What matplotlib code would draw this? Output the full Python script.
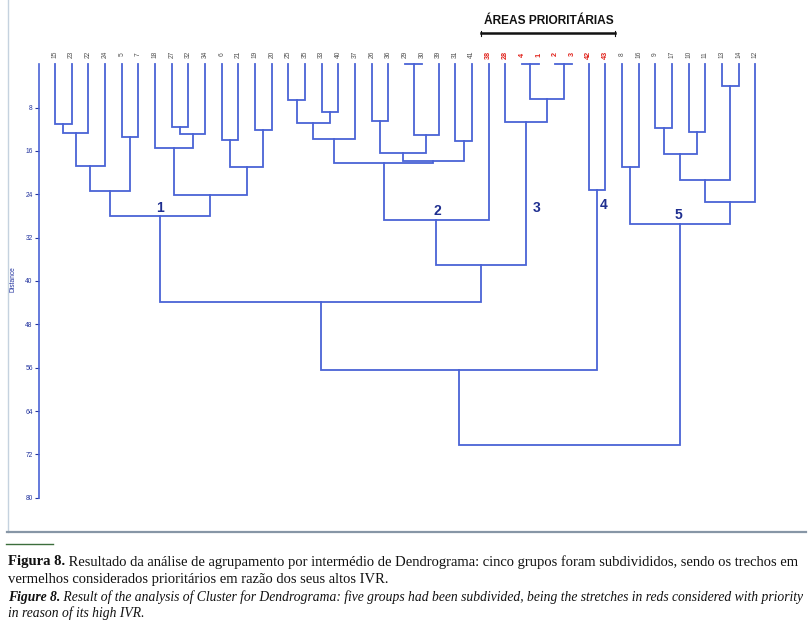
import matplotlib
matplotlib.use("Agg")
import matplotlib.pyplot as plt
from matplotlib.lines import Line2D

# ---------------- data ----------------
leaf_labels = ["15", "23", "22", "24", "5", "7", "18", "27", "32", "34", "6", "21",
               "19", "20", "25", "35", "33", "40", "37", "26", "36", "29", "30", "39",
               "31", "41", "38", "28", "4", "1", "2", "3", "42", "43", "8", "16", "9",
               "17", "10", "11", "13", "14", "12"]
priority_leaves = ["38", "28", "4", "1", "2", "3", "42", "43"]

# merges: (left, right, distance); "#k" refers to the k-th merge
merges = [
    ("15", "23", 11.05),   # 0
    ("#0", "22", 12.65),   # 1
    ("#1", "24", 18.8),    # 2
    ("5", "7", 13.45),     # 3
    ("#2", "#3", 23.4),    # 4
    ("27", "32", 11.5),    # 5
    ("#5", "34", 12.95),   # 6
    ("18", "#6", 15.5),    # 7
    ("6", "21", 14.05),    # 8
    ("19", "20", 12.15),   # 9
    ("#8", "#9", 18.95),   # 10
    ("#7", "#10", 24.2),   # 11
    ("#4", "#11", 28.1),   # 12  group 1
    ("25", "35", 6.6),     # 13
    ("33", "40", 8.85),    # 14
    ("#13", "#14", 10.9),  # 15
    ("#15", "37", 13.8),   # 16
    ("26", "36", 10.5),    # 17
    ("29", "30", 0.0),     # 18
    ("#18", "39", 13.1),   # 19
    ("#17", "#19", 16.3),  # 20
    ("31", "41", 14.2),    # 21
    ("#20", "#21", 17.9),  # 22
    ("#16", "#22", 18.3),  # 23
    ("#23", "38", 28.7),   # 24  group 2
    ("4", "1", 0.0),       # 25
    ("2", "3", 0.0),       # 26
    ("#25", "#26", 6.35),  # 27
    ("28", "#27", 10.7),   # 28  group 3
    ("#24", "#28", 37.0),  # 29
    ("#12", "#29", 43.9),  # 30
    ("42", "43", 23.3),    # 31  group 4
    ("#30", "#31", 56.5),  # 32
    ("8", "16", 18.9),     # 33
    ("9", "17", 11.8),     # 34
    ("10", "11", 12.6),    # 35
    ("#34", "#35", 16.5),  # 36
    ("13", "14", 4.1),     # 37
    ("#36", "#37", 21.3),  # 38
    ("#38", "12", 25.5),   # 39
    ("#33", "#39", 29.4),  # 40  group 5
    ("#32", "#40", 70.3),  # 41
]

group_names = ["1", "2", "3", "4", "5"]
group_pos = [(6.3, 26.6), (22.9, 27.0), (28.9, 26.5), (32.9, 26.0), (37.4, 27.8)]

y_ticks = [8, 16, 24, 32, 40, 48, 56, 64, 72, 80]
y_label = "Distance"
header = "ÁREAS PRIORITÁRIAS"

caption = [
    [("Figura 8.", "bold", "normal"),
     (" Resultado da análise de agrupamento por intermédio de Dendrograma: cinco grupos foram subdivididos, sendo os trechos em", "normal", "normal")],
    [("vermelhos considerados prioritários em razão dos seus altos IVR.", "normal", "normal")],
    [("Figure 8.", "bold", "italic"),
     (" Result of the analysis of Cluster for Dendrograma: five groups had been subdivided, being the stretches in reds considered with priority", "normal", "italic")],
    [("in reason of its high IVR.", "normal", "italic")],
]

# ---------------- figure ----------------
W, H = 812, 629
fig = plt.figure(figsize=(W / 100, H / 100), dpi=100)
fig.patch.set_facecolor("white")


def fx(px):
    return px / W


def fy(py):
    return 1 - py / H


LINE = "#4a63d6"
DARKBLUE = "#22339e"
SANS = ["Liberation Sans", "DejaVu Sans"]

ax = fig.add_axes([fx(39), fy(497.7), fx(775) - fx(39), fy(64.2) - fy(497.7)])
ax.set_xlim(-0.96, 43.18)
ax.set_ylim(80, 0)

# compute dendrogram geometry
pos = {lab: (float(i), 0.0) for i, lab in enumerate(leaf_labels)}
for k, (a, b, h) in enumerate(merges):
    xa, ha = pos[a]
    xb, hb = pos[b]
    ax.plot([xa, xa, xb, xb], [ha, h, h, hb], color=LINE, lw=1.3,
            solid_joinstyle="miter", clip_on=False)
    pos["#%d" % k] = ((xa + xb) / 2, h)

# leaf labels
for i, lab in enumerate(leaf_labels):
    if lab in priority_leaves:
        ax.text(i, -1.8, lab, rotation=90, ha="center", va="center", family=SANS,
                fontsize=5.2, color="#e0221b", fontweight="bold", clip_on=False)
    else:
        ax.text(i, -1.8, lab, rotation=90, ha="center", va="center", family=SANS,
                fontsize=4.8, color="#505050", clip_on=False)

for name, (gx, gy) in zip(group_names, group_pos):
    ax.text(gx, gy, name, ha="center", va="center", fontsize=10, family=SANS,
            fontweight="bold", color="#1f2f90")

for s in ["top", "right", "bottom"]:
    ax.spines[s].set_visible(False)
ax.spines["left"].set_color(LINE)
ax.spines["left"].set_linewidth(1.2)
ax.set_xticks([])
ax.set_yticks(y_ticks)
ax.set_yticklabels([str(t) for t in y_ticks], family=SANS)
ax.tick_params(axis="y", direction="out", length=3, width=0.8, colors=DARKBLUE,
               labelsize=4.8, pad=1.5)
ax.patch.set_alpha(0)

fig.text(fx(13), fy(279), y_label, rotation=90, fontsize=4.8, color=DARKBLUE,
         family=SANS, ha="center", va="center")

# header
fig.text(fx(549), fy(21.5), header, ha="center", va="center", fontsize=8.6,
         fontweight="bold", family=["Liberation Sans Narrow", "Liberation Sans", "DejaVu Sans"],
         color="#111111")
fig.add_artist(Line2D([fx(481.5), fx(615)], [fy(33.3), fy(33.3)], color="#111111",
                      lw=1.8, transform=fig.transFigure))
for xe in (481.5, 615):
    fig.add_artist(Line2D([fx(xe), fx(xe)], [fy(31), fy(35.5)], color="#111111",
                          lw=0.8, transform=fig.transFigure))

# box frame
fig.add_artist(Line2D([fx(7.5), fx(7.5)], [fy(0), fy(532)], color="#c5d2df",
                      lw=1.0, transform=fig.transFigure))
fig.add_artist(Line2D([fx(7), fx(806)], [fy(532), fy(532)], color="#8796a6",
                      lw=1.6, transform=fig.transFigure))
# green rule
fig.add_artist(Line2D([fx(6), fx(53)], [fy(543.5), fy(543.5)], color="#3c6e3c",
                      lw=1.0, transform=fig.transFigure))

# caption
fig.canvas.draw()
renderer = fig.canvas.get_renderer()
serif = ["Liberation Serif", "DejaVu Serif"]


def measure(parts, fs):
    w = 0
    for txt, wt, st in parts:
        t = fig.text(0, 0, txt, fontsize=fs, fontweight=wt, fontstyle=st, family=serif)
        w += t.get_window_extent(renderer).width
        t.remove()
    return w


def draw_line(parts, x0, ypix, fs):
    x = x0
    for txt, wt, st in parts:
        t = fig.text(fx(x), fy(ypix), txt, fontsize=fs, fontweight=wt, fontstyle=st,
                     family=serif, ha="left", va="center", color="#111111")
        x += t.get_window_extent(renderer).width


target = 796.0
fs_roman = 10.0 * target / measure(caption[0], 10.0)
fs_ital = 10.0 * target / measure(caption[2], 10.0)
sizes = [fs_roman, fs_roman, fs_ital, fs_ital]
ys = [562, 579, 597, 613.5]
for parts, yp, fs in zip(caption, ys, sizes):
    draw_line(parts, 8, yp, fs)

fig.savefig("out.png", dpi=100, facecolor="white")
